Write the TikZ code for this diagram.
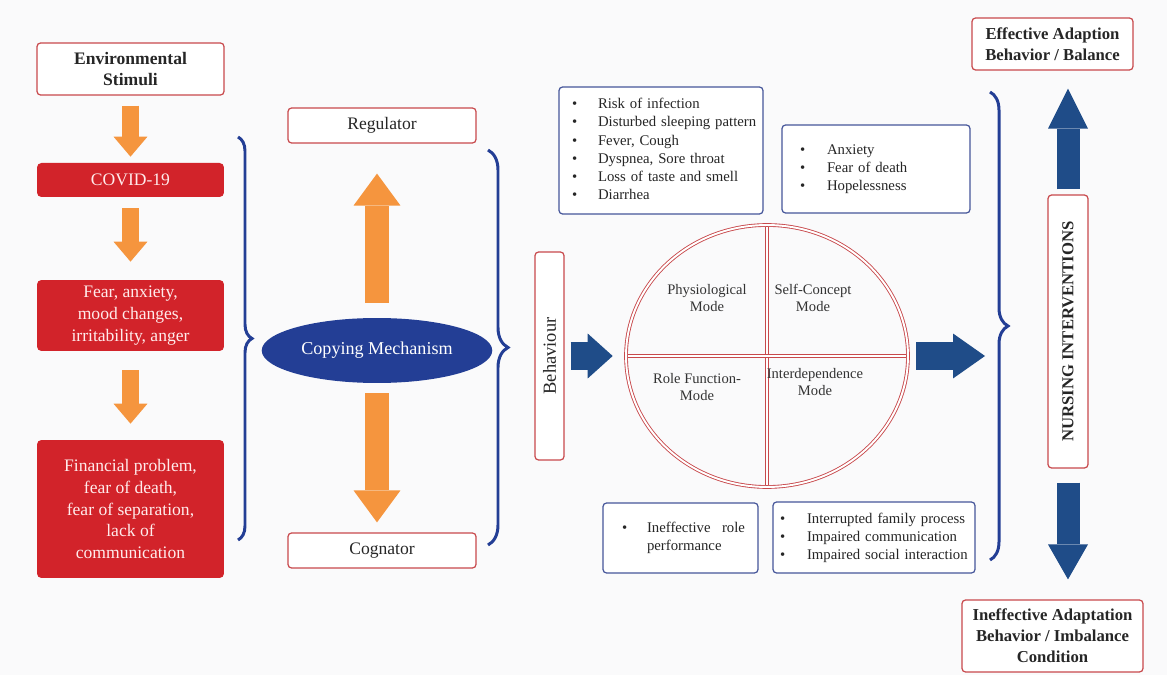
\documentclass[tikz,border=0pt]{standalone}
\usepackage{fontspec}
\setmainfont{Liberation Serif}
\usetikzlibrary{arrows.meta,shapes.geometric,decorations.pathreplacing}

\definecolor{stimred}{HTML}{C8494C}
\definecolor{covidred}{HTML}{D2232A}
\definecolor{flowor}{HTML}{F5953E}
\definecolor{copeblue}{HTML}{233E95}
\definecolor{modeblue}{HTML}{1F4C88}
\definecolor{listblue}{HTML}{46569A}
\definecolor{paper}{HTML}{FAFAFB}

\newcommand{\bul}{\textbullet}

\tikzset{
  outlinebox/.style={draw=stimred, fill=white, rounded corners=2pt, line width=0.7pt,
    align=center, text=black!85, font=\fontsize{10}{12.3}\selectfont},
  filledbox/.style={fill=covidred, rounded corners=2.5pt, align=center,
    text=white!92!red, font=\fontsize{10}{12.3}\selectfont},
  listbox/.style={draw=listblue, fill=white, rounded corners=2pt, line width=0.7pt,
    align=left, inner sep=0pt, text=black!85, font=\fontsize{8.4}{10.3}\selectfont},
  modetext/.style={align=center, text=black!80, font=\fontsize{8.3}{9.8}\selectfont},
  doubleline/.style={draw=stimred, double=white, double distance=1.1pt, line width=0.5pt},
  bracket/.style={draw=copeblue, line width=1.7pt, decorate, decoration={brace, amplitude=#1}},
  smallflow/.style={draw=flowor, line width=0.36cm, -{Triangle[width=0.68cm, length=0.4cm, line width=0pt]}},
  bigflow/.style={draw=flowor, line width=0.48cm, -{Triangle[width=0.94cm, length=0.64cm, line width=0pt]}},
  blueflow/.style={draw=modeblue, line width=0.56cm, -{Triangle[width=0.9cm, length=#1, line width=0pt]}},
  upflow/.style={draw=modeblue, line width=0.46cm, -{Triangle[width=0.8cm, length=#1, line width=0pt]}}
}

\begin{document}
\begin{tikzpicture}[x=0.02cm, y=-0.02cm]
  \fill[paper] (0,0) rectangle (1167,675);
  \useasboundingbox (0,0) rectangle (1167,675);

  % Stimuli column
  \node[outlinebox, minimum width=3.74cm, minimum height=1.04cm, font=\bfseries\fontsize{10}{12.3}\selectfont]
    (env) at (130.5,69) {Environmental\\Stimuli};
  \node[filledbox, minimum width=3.74cm, minimum height=0.68cm] (covid) at (130.5,180) {COVID-19};
  \node[filledbox, minimum width=3.74cm, minimum height=1.42cm] (fear) at (130.5,315.5)
    {Fear, anxiety,\\mood changes,\\irritability, anger};
  \node[filledbox, minimum width=3.74cm, minimum height=2.76cm] (fin) at (130.5,509)
    {Financial problem,\\fear of death,\\fear of separation,\\lack of\\communication};

  \draw[smallflow, shorten <=0.2cm, shorten >=0.12cm] (env) -- (covid);
  \draw[smallflow, shorten <=0.22cm, shorten >=0.36cm] (covid) -- (fear);
  \draw[smallflow, shorten <=0.38cm, shorten >=0.32cm] (fear) -- (fin);

  \draw[bracket=0.28cm] (238,137) -- (238,540);

  % Coping mechanism
  \node[outlinebox, minimum width=3.76cm, minimum height=0.7cm] (reg) at (382,125.5) {Regulator};
  \node[ellipse, fill=copeblue, text=white, minimum width=4.04cm, minimum height=1.3cm,
    font=\fontsize{10.3}{12}\selectfont] (cope) at (377,350.5) {Copying Mechanism};
  \node[outlinebox, minimum width=3.76cm, minimum height=0.7cm] (cog) at (382,550.5) {Cognator};

  \draw[bigflow, shorten <=0.3cm, shorten >=0.6cm] (cope.north) -- (cope.north |- reg.south);
  \draw[bigflow, shorten <=0.2cm, shorten >=0.2cm] (cope.south) -- (cope.south |- cog.north);

  \draw[bracket=0.4cm] (488,150) -- (488,545);

  % Adaptive modes
  \node[outlinebox, rotate=90, minimum width=4.16cm, minimum height=0.58cm,
    font=\fontsize{10.5}{12}\selectfont] (beh) at (549.5,356) {Behaviour};
  \node[ellipse, minimum width=5.64cm, minimum height=5.24cm, inner sep=0pt] (modes) at (767,356) {};
  \draw[doubleline] (modes.north) -- (modes.south);
  \draw[doubleline] (modes.west) -- (modes.east);
  \draw[doubleline] (modes.center) ellipse [x radius=2.82cm, y radius=2.62cm];

  \node[modetext] (physio) at (707,298) {Physiological\\Mode};
  \node[modetext] (selfc) at (813,298) {Self-Concept\\Mode};
  \node[modetext] (rolef) at (697,387) {Role Function-\\Mode};
  \node[modetext] (interd) at (815,382) {Interdependence\\Mode};

  \node[listbox, minimum width=4.08cm, minimum height=2.54cm, text width=3.56cm] (physlist) at (661,150.5)
    {\begin{tabular}{@{}p{0.52cm}@{}l@{}}
      \bul & Risk of infection\\ \bul & Disturbed sleeping pattern\\ \bul & Fever, Cough\\
      \bul & Dyspnea, Sore throat\\ \bul & Loss of taste and smell\\ \bul & Diarrhea
    \end{tabular}};
  \node[listbox, minimum width=3.76cm, minimum height=1.76cm, text width=3.04cm] (selflist) at (876,169)
    {\begin{tabular}{@{}p{0.54cm}@{}l@{}}
      \bul & Anxiety\\ \bul & Fear of death\\ \bul & Hopelessness
    \end{tabular}};
  \node[listbox, minimum width=3.1cm, minimum height=1.4cm, text width=2.34cm] (rolelist) at (680.5,538)
    {\begin{tabular}{@{}p{0.5cm}@{}l@{}}
      \bul & \makebox[1.96cm][s]{Ineffective\hfill role}\\ & performance
    \end{tabular}};
  \node[listbox, minimum width=4.04cm, minimum height=1.42cm, text width=3.76cm] (interlist) at (874,537.5)
    {\begin{tabular}{@{}p{0.54cm}@{}l@{}}
      \bul & Interrupted family process\\ \bul & Impaired communication\\ \bul & Impaired social interaction
    \end{tabular}};

  \coordinate (rbrace) at (988,356);
  \draw[blueflow=0.5cm, shorten <=0.12cm, shorten >=0.26cm] (beh) -- (modes);
  \draw[blueflow=0.64cm, shorten <=0.16cm, shorten >=0.06cm] (modes.east) -- (rbrace);

  \draw[bracket=0.36cm] (990,92) -- (990,560);

  % Outcomes
  \node[outlinebox, minimum width=3.22cm, minimum height=1.04cm, font=\bfseries\fontsize{9.5}{12}\selectfont]
    (effect) at (1052.5,44) {Effective Adaption\\Behavior / Balance};
  \node[outlinebox, rotate=90, minimum width=5.46cm, minimum height=0.8cm,
    font=\bfseries\fontsize{9.5}{12}\selectfont] (nurse) at (1068,331.5) {NURSING INTERVENTIONS};
  \node[outlinebox, minimum width=3.62cm, minimum height=1.44cm, font=\bfseries\fontsize{9.5}{12}\selectfont]
    (ineff) at (1052.5,636) {Ineffective Adaptation\\Behavior / Imbalance\\Condition};

  \draw[upflow=0.8cm, shorten <=0.1cm, shorten >=0.36cm] (nurse.east) -- (nurse.east |- effect.south);
  \draw[upflow=0.7cm, shorten <=0.28cm, shorten >=0.4cm] (nurse.west) -- (nurse.west |- ineff.north);
\end{tikzpicture}
\end{document}
